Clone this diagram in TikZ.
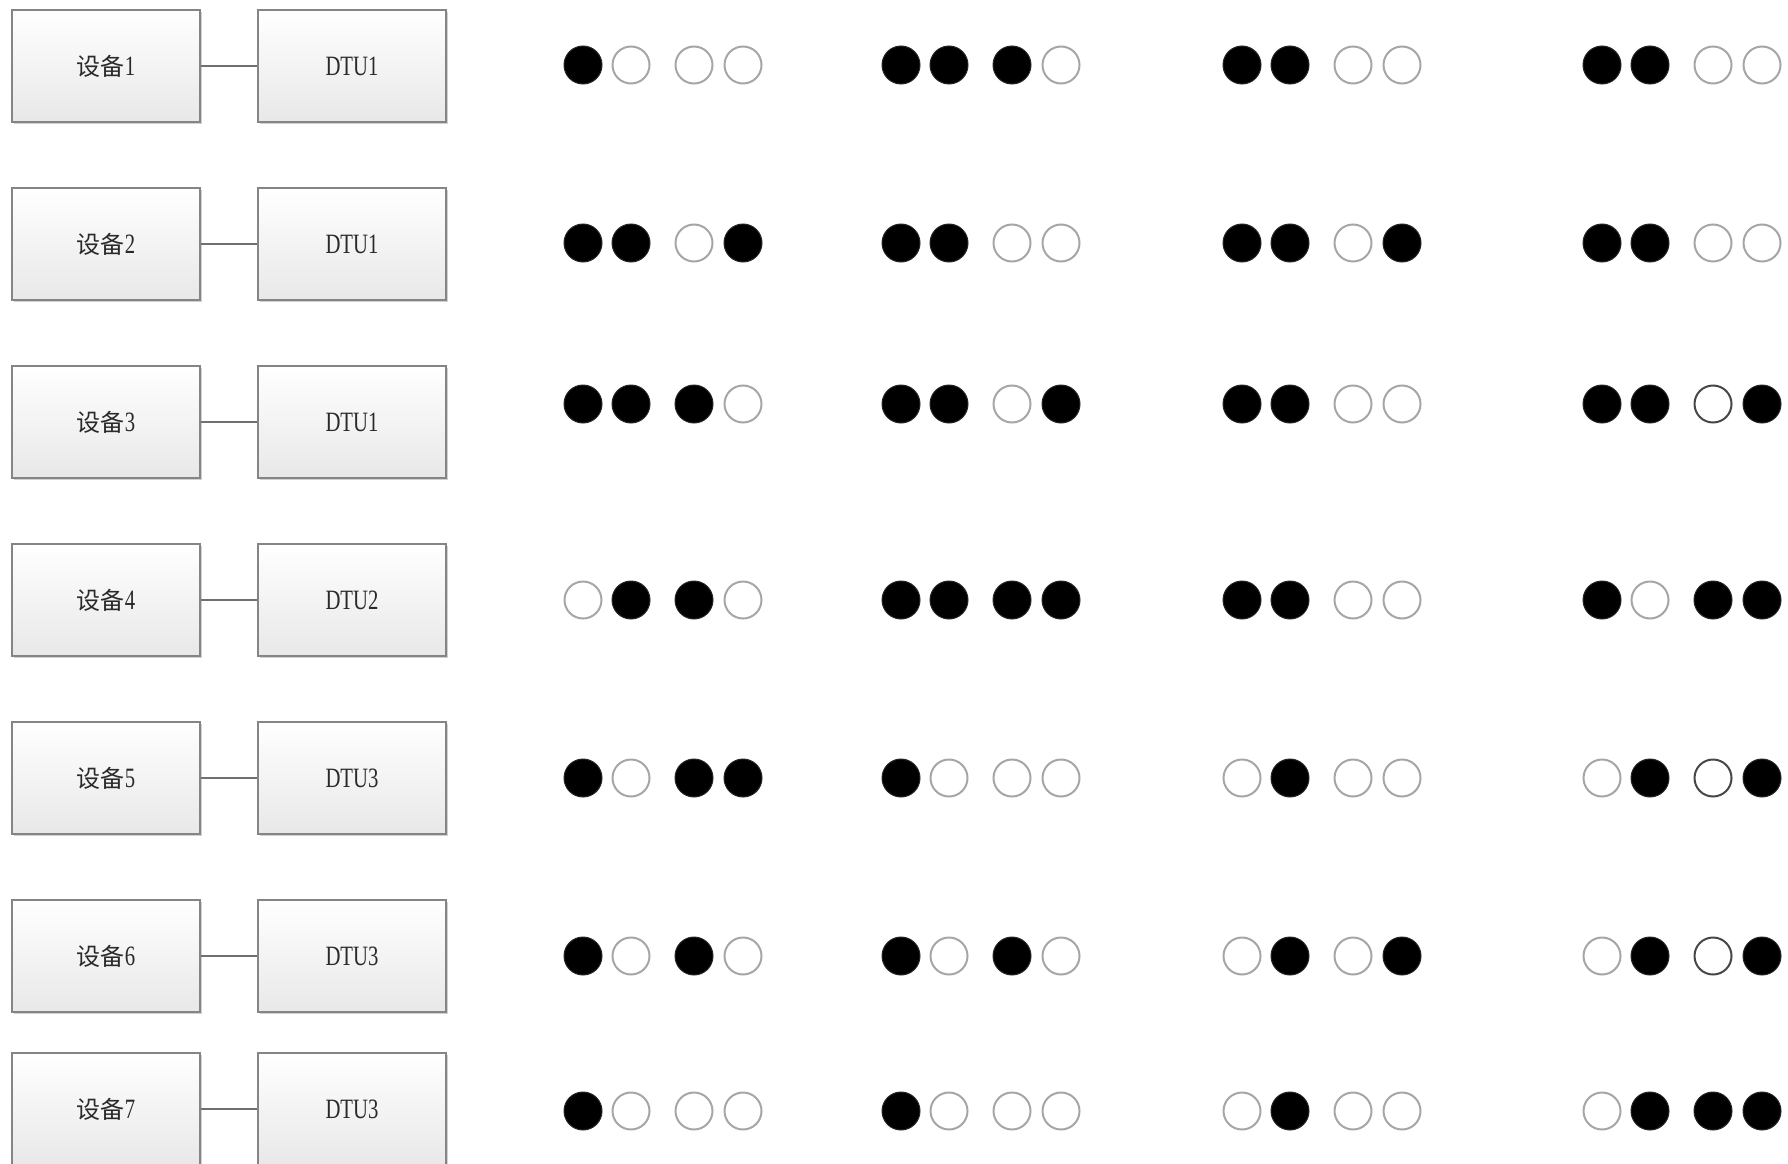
\documentclass[tikz,border=0pt]{standalone}
\usepackage{fontspec}
\setmainfont{Liberation Serif}
\newfontfamily\cjk{Noto Sans CJK SC}
\usetikzlibrary{shadows}
\definecolor{boxline}{HTML}{858585}
\definecolor{boxlow}{HTML}{E8E8E8}
\definecolor{txt}{HTML}{2A2A2A}
\definecolor{linkc}{HTML}{707070}
\newcommand\lt[1]{\scalebox{0.74}[1]{\fontsize{28}{28}\selectfont #1}}
\newcommand\dev[1]{{\fontsize{24}{24}\selectfont\cjk 设备}\lt{#1}}
\tikzset{
  box/.style={draw=boxline, line width=1.6pt, top color=white, bottom color=boxlow,
    minimum width=188pt, minimum height=112pt, inner sep=0pt, text=txt,
    drop shadow={shadow xshift=2pt, shadow yshift=-2pt, opacity=0.18, fill=black}},
  link/.style={draw=linkc, line width=1.5pt},
  st1/.style={circle, fill=black, draw=black!85, line width=1pt, minimum size=38pt, inner sep=0pt},
  st0/.style={circle, fill=white, draw=gray!70, line width=2pt, minimum size=37pt, inner sep=0pt},
  st2/.style={circle, fill=white, draw=black!72, line width=2pt, minimum size=37pt, inner sep=0pt},
}
\newcommand\grp[8]{%
  \node[st#5] (c#1#2a) at (#3,#4) {};
  \node[st#6] (c#1#2b) at (#3+48,#4) {};
  \node[st#7] (c#1#2c) at (#3+111,#4) {};
  \node[st#8] (c#1#2d) at (#3+160,#4) {};
}
\newcommand\crow[6]{% row, y, then four 4-digit groups
  \grpx{#1}{1}{583}{#2}#3\relax
  \grpx{#1}{2}{901}{#2}#4\relax
  \grpx{#1}{3}{1242}{#2}#5\relax
  \grpx{#1}{4}{1602}{#2}#6\relax
}
\def\grpx#1#2#3#4#5#6#7#8\relax{\grp{#1}{#2}{#3}{#4}{#5}{#6}{#7}{#8}}
\begin{document}
\begin{tikzpicture}[x=1pt, y=-1pt]
\fill[white] (0,0) rectangle (1788,1164);
\useasboundingbox (0,0) rectangle (1788,1164);
\clip (0,0) rectangle (1788,1164);
% device and DTU boxes
\foreach \r/\y/\d in {1/66/1, 2/244/1, 3/422/1, 4/600/2, 5/778/3, 6/956/3, 7/1109/3}{
  \node[box] (dev\r) at (106,\y) {\dev{\r}};
  \node[box] (dtu\r) at (352,\y) {\lt{DTU\d}};
  \draw[link] (dev\r.east) -- (dtu\r.west);
}
% indicator circles
\crow{1}{65}{1000}{1110}{1100}{1100}
\crow{2}{243}{1101}{1100}{1101}{1100}
\crow{3}{404}{1110}{1101}{1100}{1121}
\crow{4}{600}{0110}{1111}{1100}{1011}
\crow{5}{778}{1011}{1000}{0100}{0121}
\crow{6}{956}{1010}{1010}{0101}{0121}
\crow{7}{1111}{1000}{1000}{0100}{0111}
\end{tikzpicture}
\end{document}
